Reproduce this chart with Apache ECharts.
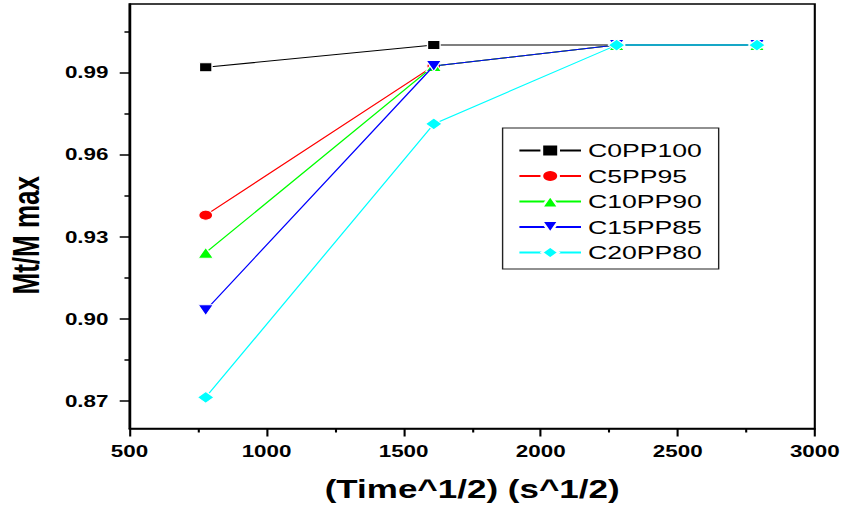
<!DOCTYPE html>
<html>
<head>
<meta charset="utf-8">
<script src="https://cdn.jsdelivr.net/npm/echarts@6/dist/echarts.min.js"></script>
<style>
  html, body { margin: 0; padding: 0; background: #fff; overflow: hidden; }
  #wrap { width: 844px; height: 508px; overflow: hidden; }
  /* the figure is laid out narrow and stretched sideways, as in the original export */
  #chart { width: 603px; height: 508px; transform: scaleX(1.4); transform-origin: 0 0; }
</style>
</head>
<body>
<div id="wrap"><div id="chart"></div></div>
<script>
// square root of exposure time (s^1/2)
const timeRoot = [778, 1610, 2277, 2789];

const seriesNames = ['C0PP100', 'C5PP95', 'C10PP90', 'C15PP85', 'C20PP80'];

// Mt / M max for each blend
const c0pp100 = [0.9919, 1.0000, 1.0000, 1.0000];
const c5pp95  = [0.9379, 0.9924, 1.0000, 1.0000];
const c10pp90 = [0.9242, 0.9924, 1.0000, 1.0000];
const c15pp85 = [0.9032, 0.9924, 1.0000, 1.0000];
const c20pp80 = [0.8714, 0.9712, 1.0000, 1.0000];

// y axis tick positions
const yMajorTicks = [0.87, 0.90, 0.93, 0.96, 0.99];
const yMinorTicks = [0.885, 0.915, 0.945, 0.975, 1.005];

const allValues = [c0pp100, c5pp95, c10pp90, c15pp85, c20pp80];
const colors = ['#000000', '#ff0000', '#00ff00', '#0000ff', '#00ffff'];
const symbols = ['rect', 'circle', 'triangle', 'triangle', 'diamond'];
const symbolSizes = [9, 10, 11, 11, 12];
const symbolRotates = [0, 0, 0, 180, 0];

const font = 'Liberation Sans, Arial, sans-serif';

const series = seriesNames.map((name, i) => ({
  name: name,
  type: 'line',
  data: timeRoot.map((t, k) => [t, allValues[i][k]]),
  symbol: symbols[i],
  symbolSize: symbolSizes[i],
  symbolRotate: symbolRotates[i],
  showAllSymbol: true,
  lineStyle: { color: colors[i], width: 1 },
  itemStyle: { color: colors[i], borderColor: '#ffffff', borderWidth: 1 },
  emphasis: { disabled: true },
  animation: false,
  z: 2 + i
}));

const chart = echarts.init(document.getElementById('chart'), null, { renderer: 'svg' });

chart.setOption({
  backgroundColor: '#ffffff',
  animation: false,
  grid: {
    left: 92.5, right: 21, top: 4, bottom: 79.5,
    outerBoundsMode: 'none',
    containLabel: false,
    show: true, borderColor: '#000', borderWidth: 1.5, backgroundColor: 'transparent'
  },
  legend: {
    left: 359, top: 128,
    orient: 'vertical',
    data: seriesNames,
    itemWidth: 44, itemHeight: 15, itemGap: 6.5,
    padding: [13, 12, 7, 11],
    borderColor: '#222', borderWidth: 1, backgroundColor: '#fff',
    textStyle: { fontFamily: font, fontSize: 19, color: '#000' }
  },
  xAxis: {
    type: 'value',
    min: 500, max: 3000, interval: 500,
    name: '(Time^1/2) (s^1/2)',
    nameLocation: 'middle', nameGap: 48,
    nameTextStyle: { fontFamily: font, fontSize: 25, fontWeight: 'bold', color: '#000' },
    axisLine: { show: true, onZero: false, lineStyle: { color: '#000', width: 1.5 } },
    axisTick: { show: true, inside: false, length: 8, lineStyle: { color: '#000', width: 1.5 } },
    minorTick: { show: true, splitNumber: 2, length: 4, lineStyle: { color: '#000', width: 1.5 } },
    axisLabel: {
      margin: 15, fontFamily: font, fontSize: 16, fontWeight: 'bold', color: '#000',
      formatter: v => String(v)
    },
    splitLine: { show: false }
  },
  yAxis: [{
    type: 'value',
    min: 0.86, max: 1.015,
    name: 'Mt/M max',
    nameLocation: 'middle', nameGap: 61,
    nameTextStyle: { fontFamily: font, fontSize: 26, fontWeight: 'bold', color: '#000', padding: [0, 38, 0, 0] },
    axisLine: { show: true, onZero: false, lineStyle: { color: '#000', width: 1.5 } },
    axisTick: { show: true, inside: false, length: 7, customValues: yMajorTicks, lineStyle: { color: '#000', width: 1.5 } },
    axisLabel: {
      margin: 15, customValues: yMajorTicks,
      fontFamily: font, fontSize: 16, fontWeight: 'bold', color: '#000',
      formatter: v => v.toFixed(2)
    },
    splitLine: { show: false }
  }, {
    type: 'value',
    position: 'left',
    min: 0.86, max: 1.015,
    axisLine: { show: false },
    axisTick: { show: true, inside: false, length: 3.6, customValues: yMinorTicks, lineStyle: { color: '#000', width: 1.5 } },
    axisLabel: { show: false },
    splitLine: { show: false }
  }],
  series: series
});
</script>
</body>
</html>
